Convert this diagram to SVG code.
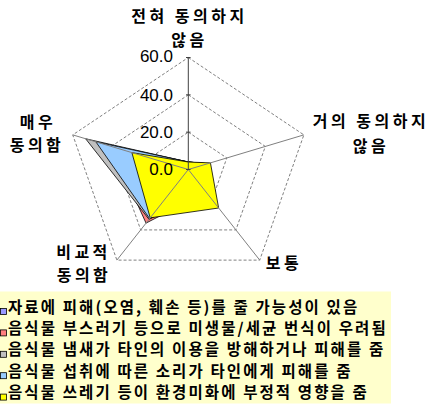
<svg xmlns="http://www.w3.org/2000/svg" width="435" height="405" viewBox="0 0 435 405">
<style>
.ring{fill:none;stroke:#808080;stroke-width:1;stroke-dasharray:3 2}
.spoke{stroke:#808080;stroke-width:1}
.vaxis{stroke:#404040;stroke-width:1}
.ser{stroke:#000;stroke-width:0.8;stroke-linejoin:round}
.lbl{font-family:"Noto Sans CJK KR","Noto Sans",sans-serif;font-size:16px;font-weight:bold;letter-spacing:3.5px;fill:#000;text-anchor:middle}
.num{font-family:"Liberation Sans",Arial,sans-serif;font-size:17px;fill:#000;text-anchor:end}
.leg{font-family:"Noto Sans CJK KR","Noto Sans",sans-serif;font-size:15.5px;font-weight:bold;letter-spacing:2.1px;fill:#000}
.mk{stroke:#000;stroke-width:0.8}
</style>
<rect width="435" height="405" fill="#fff"/>
<g id="grid">
<polygon class="ring" points="188.3,57.5 303.86,134.89 259.72,260.11 116.88,260.11 72.74,134.89"/>
<polygon class="ring" points="188.3,94.83 265.34,146.43 235.91,229.91 140.69,229.91 111.26,146.43"/>
<polygon class="ring" points="188.3,132.17 226.82,157.96 212.11,199.7 164.49,199.7 149.78,157.96"/>
</g>
<g id="series">
<polygon id="s1" class="ser" fill="#9999FF" points="188.3,162.03 207.56,163.73 206.15,192.15 152.59,214.81 101.63,143.54"/>
<polygon id="s2" class="ser" fill="#FF8080" points="188.3,162.03 207.56,163.73 206.15,192.15 146.04,223.11 111.26,146.43"/>
<polygon id="s3" class="ser" fill="#C0C0C0" points="188.3,162.03 207.56,163.73 206.15,192.15 149.02,219.34 85.64,138.76"/>
<polygon id="s4" class="ser" fill="#99CCFF" points="188.3,162.03 207.56,163.73 206.15,192.15 149.62,218.58 95.85,141.81"/>
<polygon id="s5" class="ser" fill="#FFFF00" points="188.3,162.03 210.45,162.87 218.65,208.01 150.21,217.83 131.87,152.6"/>
</g>
<g id="axes">
<line class="spoke" x1="188.3" y1="169.5" x2="303.86" y2="134.89"/>
<line class="spoke" x1="188.3" y1="169.5" x2="259.72" y2="260.11"/>
<line class="spoke" x1="188.3" y1="169.5" x2="116.88" y2="260.11"/>
<line class="spoke" x1="188.3" y1="169.5" x2="72.74" y2="134.89"/>
<line class="vaxis" x1="188.3" y1="169.5" x2="188.3" y2="57.5"/>
<path class="vaxis" d="M186,57.5h4.6M186,94.83h4.6M186,132.17h4.6M186,169.5h4.6"/>
</g>
<g id="scale">
<text class="num" x="173" y="62.3">60.0</text>
<text class="num" x="173" y="101">40.0</text>
<text class="num" x="173" y="138.3">20.0</text>
<text class="num" x="173" y="175">0.0</text>
</g>
<g id="cat0"><text class="lbl" x="189.5" y="22">전혀 동의하지</text><text class="lbl" x="189.5" y="46">않음</text></g>
<g id="cat1"><text class="lbl" x="371" y="127">거의 동의하지</text><text class="lbl" x="371" y="152">않음</text></g>
<g id="cat2"><text class="lbl" x="284" y="269">보통</text></g>
<g id="cat3"><text class="lbl" x="83.5" y="257.5">비교적</text><text class="lbl" x="84" y="280.5">동의함</text></g>
<g id="cat4"><text class="lbl" x="38" y="127.5">매우</text><text class="lbl" x="37" y="150.5">동의함</text></g>
<g id="legend">
<rect x="0" y="291.5" width="391" height="112" fill="#FFFFCC"/>
<rect class="mk" x="0.5" y="308.5" width="6" height="6" fill="#9999FF"/>
<rect class="mk" x="0.5" y="329.9" width="6" height="6" fill="#FF8080"/>
<rect class="mk" x="0.5" y="351.3" width="6" height="6" fill="#C0C0C0"/>
<rect class="mk" x="0.5" y="372.7" width="6" height="6" fill="#99CCFF"/>
<rect class="mk" x="0.5" y="394.1" width="6" height="6" fill="#FFFF00"/>
<text class="leg" x="8" y="312.5">자료에 피해(오염, 훼손 등)를 줄 가능성이 있음</text>
<text class="leg" x="8" y="333.9">음식물 부스러기 등으로 미생물/세균 번식이 우려됨</text>
<text class="leg" x="8" y="355.3">음식물 냄새가 타인의 이용을 방해하거나 피해를 줌</text>
<text class="leg" x="8" y="376.7">음식물 섭취에 따른 소리가 타인에게 피해를 줌</text>
<text class="leg" x="8" y="398.1">음식물 쓰레기 등이 환경미화에 부정적 영향을 줌</text>
</g>
</svg>
